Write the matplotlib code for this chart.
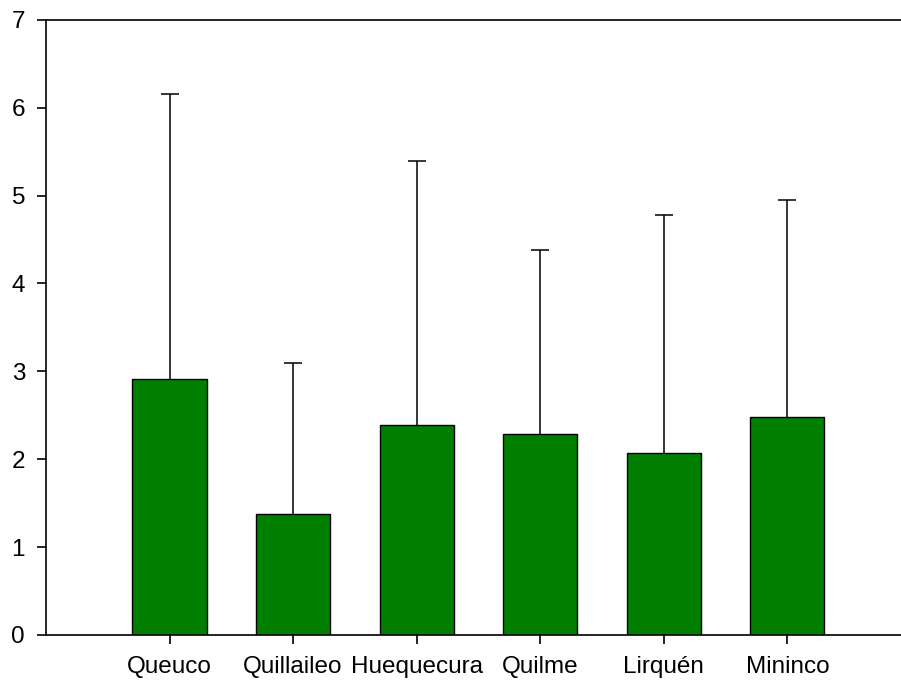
import matplotlib.pyplot as plt
import numpy as np

plt.rcParams['font.family'] = ['Liberation Sans', 'DejaVu Sans']

# sites, mean values and upper error bar ends
sites = ['Queuco', 'Quillaileo', 'Huequecura', 'Quilme', 'Lirquén', 'Mininco']
means = [2.91, 1.38, 2.39, 2.29, 2.07, 2.48]
upper = [6.15, 3.10, 5.39, 4.38, 4.78, 4.95]

x = np.arange(1, len(sites) + 1)
err = np.array(upper) - np.array(means)

fig = plt.figure(figsize=(9.01, 6.82), dpi=100)
ax = fig.add_axes([0.051, 0.069, 0.96, 0.902])

ax.bar(x, means, width=0.6, color='#007f00', edgecolor='black', linewidth=1.0, zorder=2)
eb = ax.errorbar(x, means, yerr=[np.zeros(len(x)), err], fmt='none', ecolor='black',
                 elinewidth=1.1, capsize=6.5, capthick=1.1, zorder=1)

# only the upper caps are wanted
for cap in eb[1]:
    if np.allclose(cap.get_ydata(), means):
        cap.set_visible(False)

ax.set_xlim(0, 7)
ax.set_ylim(0, 7)
ax.set_xticks(x)
ax.set_xticklabels(sites)
ax.set_yticks(range(8))

for side in ['left', 'top', 'bottom']:
    ax.spines[side].set_linewidth(1.2)
ax.spines['right'].set_visible(False)

ax.tick_params(axis='both', labelsize=17.5, length=6.5, width=1.2, direction='out')
ax.tick_params(axis='y', pad=8.5)
ax.tick_params(axis='x', pad=9)

fig.savefig('out.png', dpi=100)
